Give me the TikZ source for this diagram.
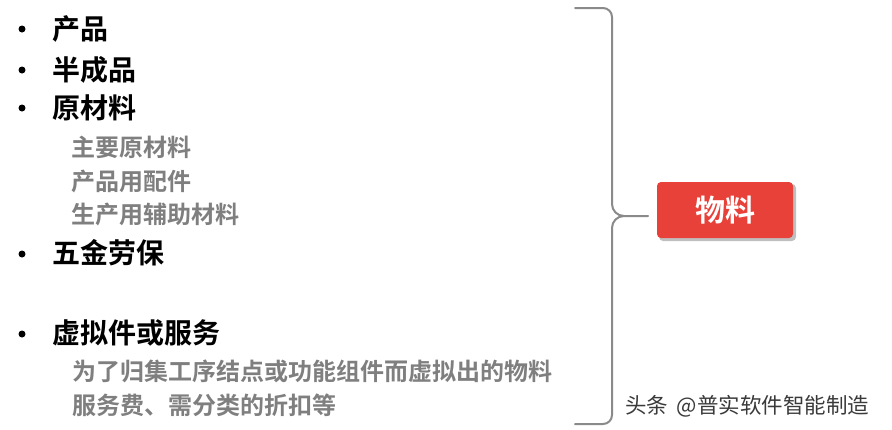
\documentclass[tikz,border=0pt]{standalone}
\usepackage{fontspec}
\newfontfamily\cjk{Noto Sans CJK SC}[BoldFont={Noto Sans CJK SC Bold}]
\definecolor{subgrey}{HTML}{7F7F7F}
\definecolor{bracegrey}{HTML}{8A8A8A}
\definecolor{boxred}{HTML}{E8413A}
\definecolor{wmgrey}{HTML}{3A3A3A}
\tikzset{
  main/.style={anchor=west, inner sep=0pt, font=\cjk\bfseries\fontsize{28}{31}\selectfont, text=black},
  sub/.style={anchor=west, inner sep=0pt, font=\cjk\bfseries\fontsize{24}{27}\selectfont, text=subgrey},
  bul/.style={circle, fill=black, inner sep=0pt, minimum size=7pt},
  bracestyle/.style={draw=bracegrey, line width=2pt, line cap=round, line join=round},
  redbox/.style={fill=boxred, rounded corners=4pt, minimum width=136pt, minimum height=56pt, inner sep=0pt,
    text=white, font=\cjk\bfseries\fontsize{30}{33}\selectfont},
  wm/.style={anchor=west, inner sep=0pt, font=\cjk\fontsize{21.5}{24}\selectfont, text=wmgrey}
}
\begin{document}
\begin{tikzpicture}[x=1pt,y=-1pt]
\useasboundingbox (0,0) rectangle (892,429);
% bullets
\node[bul] (b1) at (22,29) {};
\node[bul] (b2) at (22,70) {};
\node[bul] (b3) at (22,108) {};
\node[bul] (b4) at (22,254) {};
\node[bul] (b5) at (22,334) {};
% main items
\node[main] (m1) at (52,29) {产品};
\node[main] (m2) at (52,70) {半成品};
\node[main] (m3) at (52,108) {原材料};
\node[main] (m4) at (52,253) {五金劳保};
\node[main] (m5) at (52,333) {虚拟件或服务};
% sub items
\node[sub] (s1) at (71,147) {主要原材料};
\node[sub] (s2) at (71,181) {产品用配件};
\node[sub] (s3) at (71,214) {生产用辅助材料};
\node[sub] (s4) at (72,371) {为了归集工序结点或功能组件而虚拟出的物料};
\node[sub] (s5) at (72,405) {服务费、需分类的折扣等};
% brace
\coordinate (bt) at (575,8);
\coordinate (bb) at (575,424);
\coordinate (tip) at (648,216);
\draw[bracestyle] (bt) -- (603,8) to[out=0,in=90] (612,17) -- (612,204)
  to[out=-90,in=180] (624,216) -- (tip);
\draw[bracestyle] (bb) -- (603,424) to[out=0,in=-90] (612,415) -- (612,228)
  to[out=90,in=180] (624,216);
% red box
\fill[black!25, rounded corners=4pt] (659,184) rectangle (796,241);
\node[redbox] (wl) at (725,210) {物料};
% watermark
\node[wm] (w) at (625,406) {头条\hspace{0.4em}@普实软件智能制造};
\end{tikzpicture}
\end{document}
